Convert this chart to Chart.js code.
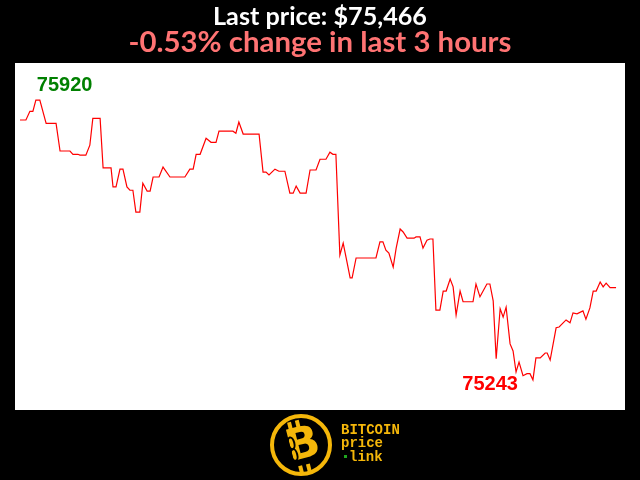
<!DOCTYPE html>
<html><head><meta charset="utf-8">
<script src="https://cdn.jsdelivr.net/npm/chart.js@4.4.1/dist/chart.umd.min.js"></script>
<style>html,body{margin:0;padding:0;background:#000;overflow:hidden}#wrap{width:640px;height:480px;position:relative}</style>
</head><body><div id="wrap"><canvas id="c" width="640" height="480"></canvas></div>
<script>
// time (minutes since start of 3-hour window)
const minutes = [0.0,1.8,3.0,3.9,4.8,6.0,7.9,10.9,12.1,15.1,16.0,17.5,18.1,19.9,21.1,22.0,24.2,25.1,27.5,28.1,29.0,30.2,31.1,32.3,33.2,34.1,35.0,36.2,37.1,38.4,39.3,40.2,42.0,43.2,45.3,49.8,51.3,52.3,53.2,54.4,56.2,57.7,59.2,60.1,64.3,65.2,66.1,67.4,72.2,73.4,74.3,75.2,77.0,78.2,80.0,81.5,82.5,83.4,84.6,86.4,87.6,89.4,90.6,92.4,93.6,94.5,95.4,96.6,97.6,98.5,99.7,100.3,101.5,107.5,108.7,109.6,110.5,111.4,112.7,113.6,114.8,115.7,116.9,119.0,119.6,120.8,121.7,122.9,123.8,124.7,125.6,126.8,127.8,128.7,129.9,130.8,131.7,132.9,133.8,136.8,137.7,138.9,141.0,141.9,142.9,143.8,145.0,145.9,146.8,148.0,148.9,149.8,150.7,151.9,153.1,154.0,154.9,155.8,157.1,158.6,159.2,160.1,161.9,162.8,164.9,166.1,167.0,168.2,170.0,170.9,172.1,173.1,174.0,175.2,176.1,177.0,178.2,180.0];
// BTC price (USD)
const prices = [75872,75872,75893,75893,75920,75920,75864,75864,75797,75797,75789,75789,75787,75787,75811,75876,75876,75756,75756,75710,75710,75753,75753,75710,75702,75702,75649,75649,75719,75700,75700,75734,75734,75758,75734,75734,75753,75753,75789,75789,75828,75818,75818,75845,75845,75840,75867,75838,75838,75746,75746,75739,75753,75748,75748,75695,75695,75712,75695,75695,75751,75751,75777,75777,75794,75789,75789,75545,75574,75538,75490,75490,75538,75538,75577,75577,75557,75550,75516,75562,75608,75601,75586,75586,75589,75589,75562,75581,75584,75584,75412,75412,75458,75458,75487,75468,75400,75458,75432,75432,75475,75444,75475,75475,75434,75294,75415,75395,75419,75330,75313,75262,75286,75253,75258,75258,75243,75296,75296,75308,75308,75291,75369,75371,75388,75381,75405,75403,75410,75390,75417,75458,75458,75480,75468,75477,75466,75466];
const titleText = "Last price: $75,466";
const subtitleText = "-0.53% change in last 3 hours";
const logoLines = ["BITCOIN", "price", "link"];

const points = minutes.map((m, i) => ({x: m, y: prices[i]}));

function fitFont(ctx, text, weight, family, targetW) {
  ctx.font = weight + " 20px " + family;
  const w = ctx.measureText(text).width;
  return 20 * targetW / w;
}

const decor = {
  id: 'decor',
  beforeDraw(chart) {
    const ctx = chart.ctx, a = chart.chartArea;
    ctx.save();
    ctx.fillStyle = '#000';
    ctx.fillRect(0, 0, chart.width, chart.height);
    ctx.fillStyle = '#fff';
    ctx.fillRect(a.left, a.top, a.right - a.left, a.bottom - a.top);
    ctx.restore();
  },
  afterDatasetsDraw(chart) {
    const ctx = chart.ctx, xs = chart.scales.x, ys = chart.scales.y;
    let iMax = 0, iMin = 0;
    prices.forEach((p, i) => { if (p > prices[iMax]) iMax = i; if (p < prices[iMin]) iMin = i; });
    ctx.save();
    ctx.font = "bold 20px 'Liberation Sans'";
    ctx.textBaseline = 'alphabetic';
    ctx.fillStyle = '#008000';
    ctx.textAlign = 'left';
    ctx.fillText(String(prices[iMax]), xs.getPixelForValue(minutes[iMax]) + 1, ys.getPixelForValue(prices[iMax]) - 9);
    ctx.fillStyle = '#ff0000';
    ctx.textAlign = 'right';
    ctx.fillText(String(prices[iMin]), xs.getPixelForValue(minutes[iMin]) - 15, ys.getPixelForValue(prices[iMin]) + 10);
    ctx.restore();
  },
  afterDraw(chart) {
    const ctx = chart.ctx;
    ctx.save();
    ctx.textAlign = 'center';
    ctx.textBaseline = 'alphabetic';
    let s = fitFont(ctx, titleText, 'bold', 'Lato', 214);
    ctx.font = 'bold ' + s + 'px Lato';
    ctx.fillStyle = '#ffffff';
    ctx.fillText(titleText, 320, 25);
    s = fitFont(ctx, subtitleText, 'bold', 'Lato', 383);
    ctx.font = 'bold ' + s + 'px Lato';
    ctx.fillStyle = '#ff7373';
    ctx.fillText(subtitleText, 320, 52);

    // logo
    const cx = 301, cy = 445, r = 29;
    const gold = '#f5b70a';
    ctx.beginPath();
    ctx.arc(cx, cy, r, 0, Math.PI * 2);
    ctx.fillStyle = '#000';
    ctx.fill();
    ctx.lineWidth = 4;
    ctx.strokeStyle = gold;
    ctx.stroke();
    ctx.translate(cx, cy);
    ctx.rotate(-0.25);
    ctx.fillStyle = gold;
    ctx.font = "900 44px 'DejaVu Sans'";
    ctx.textAlign = 'center';
    ctx.textBaseline = 'middle';
    ctx.fillText('B', 2, 2);
    ctx.fillRect(-8, -25, 4, 8);
    ctx.fillRect(0, -25, 4, 8);
    ctx.fillRect(-8, 20, 4, 8);
    ctx.fillRect(0, 20, 4, 8);
    ctx.strokeStyle = '#000';
    ctx.lineWidth = 2;
    ctx.beginPath();
    ctx.ellipse(-9, -4, 3, 6, 0, 0, Math.PI * 2);
    ctx.stroke();
    ctx.beginPath();
    ctx.ellipse(-9, 8, 3, 6, 0, 0, Math.PI * 2);
    ctx.stroke();
    ctx.setTransform(1, 0, 0, 1, 0, 0);
    ctx.font = "bold 14px 'Liberation Mono'";
    ctx.textAlign = 'left';
    ctx.textBaseline = 'alphabetic';
    ctx.fillStyle = gold;
    ctx.fillText(logoLines[0], 341, 434);
    ctx.fillText(logoLines[1], 341, 447);
    ctx.fillText(logoLines[2], 349, 461);
    ctx.fillStyle = '#1fa51f';
    ctx.fillRect(344, 455, 3, 3);
    ctx.restore();
  }
};

new Chart(document.getElementById('c'), {
  type: 'line',
  data: { datasets: [{ data: points, borderColor: '#ff0000', borderWidth: 1.2, pointRadius: 0, tension: 0, fill: false }] },
  options: {
    responsive: false,
    animation: false,
    devicePixelRatio: 1,
    layout: { padding: { left: 15, right: 15, top: 63, bottom: 70 } },
    scales: {
      x: { type: 'linear', display: false, min: -1.5, max: 182.7 },
      y: { type: 'linear', display: false, min: 75170, max: 76010 }
    },
    plugins: { legend: { display: false }, tooltip: { enabled: false }, title: { display: false } }
  },
  plugins: [decor]
});
</script>
</body></html>
